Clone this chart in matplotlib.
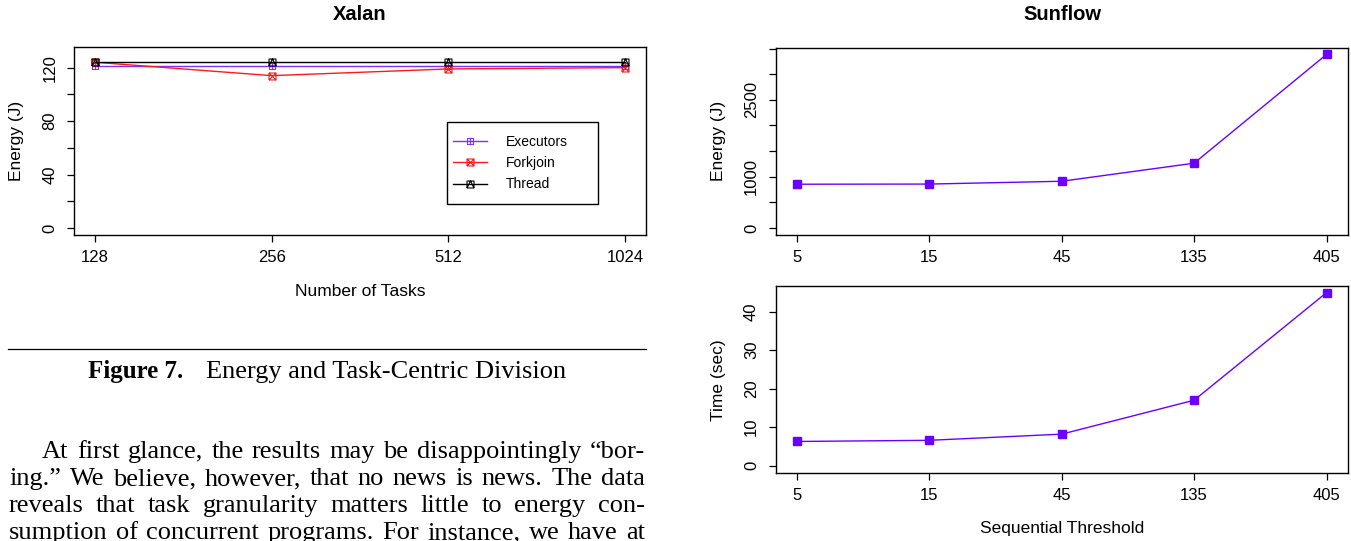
import matplotlib
matplotlib.use('Agg')
import matplotlib.pyplot as plt
from matplotlib.path import Path
from matplotlib.patches import Rectangle
from matplotlib.lines import Line2D

W, H = 1351, 541
DPI = 100

# Xalan: energy vs number of tasks
tasks = ['128', '256', '512', '1024']
executors = [121, 121, 121, 121]
forkjoin = [124, 114, 119, 120]
thread = [124, 124, 124, 124]

# Sunflow: energy / time vs sequential threshold
thresholds = ['5', '15', '45', '135', '405']
sun_energy = [855, 858, 913, 1265, 3385]
sun_time = [6.3, 6.6, 8.2, 17.0, 44.9]

caption_bold = 'Figure 7.'
caption_text = 'Energy and Task-Centric Division'
body_lines = [
    'At first glance, the results may be disappointingly \u201cbor-',
    'ing.\u201d We believe, however, that no news is news. The data',
    'reveals that task granularity matters little to energy con-',
    'sumption of concurrent programs. For instance, we have at',
]

SANS = ['Liberation Sans', 'DejaVu Sans']
SERIF = ['Liberation Serif', 'DejaVu Serif']
plt.rcParams['font.family'] = SANS


def fx(px):
    return px / W


def fy(py):
    return 1 - py / H


def px_axes(fig, x0, y0, x1, y1):
    return fig.add_axes([fx(x0), fy(y1), (x1 - x0) / W, (y1 - y0) / H])


def box_marker(kind):
    # R-like open square with an inner glyph (pch 12 / 7 / 14)
    verts = [(-1, -1), (1, -1), (1, 1), (-1, 1), (-1, -1)]
    codes = [Path.MOVETO] + [Path.LINETO] * 4
    if kind == 'plus':
        verts += [(-1, 0), (1, 0), (0, -1), (0, 1)]
        codes += [Path.MOVETO, Path.LINETO, Path.MOVETO, Path.LINETO]
    elif kind == 'times':
        verts += [(-1, -1), (1, 1), (-1, 1), (1, -1)]
        codes += [Path.MOVETO, Path.LINETO, Path.MOVETO, Path.LINETO]
    else:
        verts += [(-1, -1), (0, 1), (1, -1)]
        codes += [Path.MOVETO, Path.LINETO, Path.LINETO]
    return Path(verts, codes)


def r_style(ax, yticks, ylabels):
    for s in ax.spines.values():
        s.set_linewidth(1.0)
        s.set_color('black')
    ax.set_yticks(yticks, labels=ylabels)
    ax.tick_params(direction='out', length=5, width=0.9, labelsize=12,
                   colors='black')
    ax.tick_params(axis='x', pad=6)
    ax.tick_params(axis='y', pad=7, labelrotation=90)
    for lab in ax.get_yticklabels():
        lab.set_va('center')


fig = plt.figure(figsize=(W / DPI, H / DPI), dpi=DPI)

# ---- Xalan ----
ax1 = px_axes(fig, 74, 47.3, 646, 235)
xs = range(1, len(tasks) + 1)
ax1.plot(xs, executors, color='#7f2fff', lw=1.0, marker=box_marker('plus'),
         ms=5, mfc='none', mew=0.8, label='Executors')
ax1.plot(xs, forkjoin, color='#ff1a1a', lw=1.0, marker=box_marker('times'),
         ms=5, mfc='none', mew=0.8, label='Forkjoin')
ax1.plot(xs, thread, color='black', lw=1.0, marker=box_marker('tri'),
         ms=5, mfc='none', mew=0.8, label='Thread')
ax1.set_xlim(0.88, 4.12)
ax1.set_ylim(-5.2, 135.2)
ax1.set_xticks(list(xs), labels=tasks)
r_style(ax1, list(range(0, 121, 20)),
        [str(v) if v % 40 == 0 else '' for v in range(0, 121, 20)])
ax1.legend(frameon=False, loc='upper left', fontsize=10,
           bbox_to_anchor=(fx(452.7), fy(134.5)), bbox_transform=fig.transFigure,
           borderpad=0, borderaxespad=0, handlelength=2.5, handletextpad=1.3,
           labelspacing=0.54)
fig.add_artist(Rectangle((fx(447), fy(204)), 151 / W, 82.3 / H,
                         transform=fig.transFigure, fill=False,
                         lw=1.0, ec='black'))

fig.text(fx(360), fy(15), 'Xalan', ha='center', va='center',
         fontsize=14.5, fontweight='bold')
fig.text(fx(17), fy(141), 'Energy (J)', rotation=90, ha='center',
         va='center', fontsize=12.5)
fig.text(fx(360), fy(291), 'Number of Tasks', ha='center', va='center',
         fontsize=12.5)

# ---- Sunflow ----
sx = range(1, len(thresholds) + 1)
ax2 = px_axes(fig, 775.7, 48.3, 1347.7, 235)
ax2.plot(sx, sun_energy, color='#6a00ff', lw=1.0, marker='s', ms=5.5,
         mec='#6a00ff', mfc='#6a00ff')
ax2.set_xlim(0.84, 5.16)
ax2.set_ylim(-135, 3505)
ax2.set_xticks(list(sx), labels=thresholds)
r_style(ax2, list(range(0, 3501, 500)),
        [str(v) if v in (0, 1000, 2500) else '' for v in range(0, 3501, 500)])

ax3 = px_axes(fig, 775.7, 285.7, 1347.7, 472.7)
ax3.plot(sx, sun_time, color='#6a00ff', lw=1.0, marker='s', ms=5.5,
         mec='#6a00ff', mfc='#6a00ff')
ax3.set_xlim(0.84, 5.16)
ax3.set_ylim(-1.8, 46.7)
ax3.set_xticks(list(sx), labels=thresholds)
r_style(ax3, [0, 10, 20, 30, 40], ['0', '10', '20', '30', '40'])

fig.text(fx(1062), fy(15), 'Sunflow', ha='center', va='center',
         fontsize=14.5, fontweight='bold')
fig.text(fx(718), fy(141), 'Energy (J)', rotation=90, ha='center',
         va='center', fontsize=12.5)
fig.text(fx(718), fy(380), 'Time (sec)', rotation=90, ha='center',
         va='center', fontsize=12.5)
fig.text(fx(1062), fy(528), 'Sequential Threshold', ha='center',
         va='center', fontsize=12.5)

# ---- caption and body text ----
fig.add_artist(Line2D([fx(8), fx(646)], [fy(349), fy(349)],
                      transform=fig.transFigure, color='black', lw=0.9))

renderer = fig.canvas.get_renderer()


def text_width(s, **kw):
    t = fig.text(0, 0, s, **kw)
    w = t.get_window_extent(renderer).width
    t.remove()
    return w


wb = text_width(caption_bold, family=SERIF, fontsize=18, fontweight='bold')
wr = text_width(caption_text, family=SERIF, fontsize=19)
gap = 22
cx0 = 327 - (wb + gap + wr) / 2
fig.text(fx(cx0), fy(378), caption_bold, family=SERIF, fontsize=18,
         fontweight='bold', va='baseline')
fig.text(fx(cx0 + wb + gap), fy(378), caption_text, family=SERIF,
         fontsize=19, va='baseline')

body_size = 19


def justify(line, x0, x1, base):
    words = line.split(' ')
    widths = [text_width(w, family=SERIF, fontsize=body_size) for w in words]
    space = (x1 - x0 - sum(widths)) / (len(words) - 1)
    x = x0
    for w, wd in zip(words, widths):
        fig.text(fx(x), fy(base), w, family=SERIF, fontsize=body_size,
                 va='baseline')
        x += wd + space


for i, line in enumerate(body_lines):
    justify(line, 42 if i == 0 else 9, 645, 458 + 27 * i)

fig.savefig('out.png', dpi=DPI)
